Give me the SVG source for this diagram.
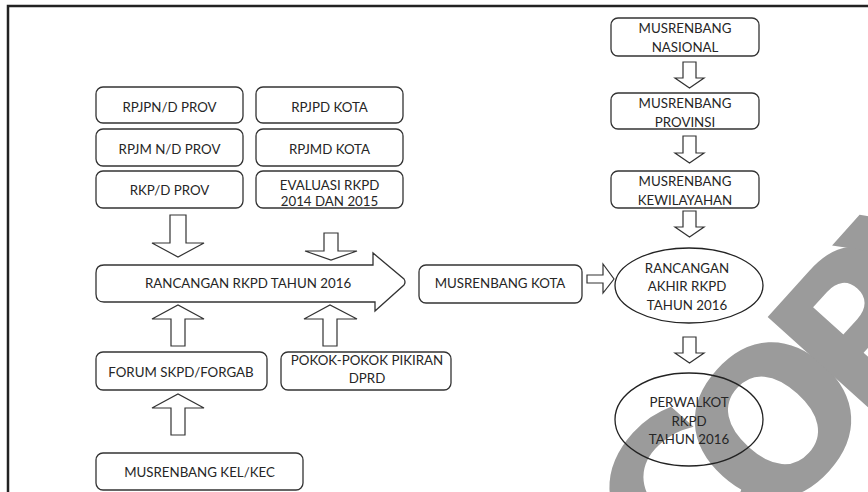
<svg xmlns="http://www.w3.org/2000/svg" width="868" height="492" viewBox="0 0 868 492">
<style>
.box{fill:#fff;stroke:#333;stroke-width:1.3}
.ell{fill:none;stroke:#222;stroke-width:1.3}
.arr{fill:#fff;stroke:#333;stroke-width:1.2;stroke-linejoin:miter}
.t{font-family:Lato,"Liberation Sans",sans-serif;font-size:13.3px;fill:#262626;text-anchor:middle}
.wm{font-family:"DejaVu Sans","Liberation Sans",sans-serif;font-weight:bold;font-size:200px;fill:#9b9b9b}
</style>
<rect width="868" height="492" fill="#fff"/>
<g id="watermark">
<text class="wm" transform="translate(692,619) rotate(-48)" dx="10 -40 -30 -30" dy="-20 20 0 0">COPY</text>
</g>
<rect x="8" y="6" width="880" height="500" fill="none" stroke="#222" stroke-width="2.5"/>
<g id="connectors">
<path class="arr" d="M170,215 H186 V243 H204 L178,257 L152,243 H170 Z"/>
<path class="arr" d="M324,233 H338 V251 H357 L331,260 L305,251 H324 Z"/>
<path class="arr" d="M171,346 H185 V319 H204 L178,305 L152,319 H171 Z"/>
<path class="arr" d="M323,346 H337 V319 H357 L330,305 L304,319 H323 Z"/>
<path class="arr" d="M171,435 H185 V408 H204 L178,394 L152,408 H171 Z"/>
<path class="arr" d="M587,275 V283 H603 V293 L614,279 L603,264 V275 Z"/>
<path class="arr" d="M683,62 H696 V78 H704 L689.5,88 L675,78 H683 Z"/>
<path class="arr" d="M683,136 H696 V153 H704 L689.5,163 L675,153 H683 Z"/>
<path class="arr" d="M683,211 H696 V227 H704 L689.5,237 L675,227 H683 Z"/>
<path class="arr" d="M683,337 H696 V353 H704 L689.5,363 L675,353 H683 Z"/>
</g>
<g id="n-rpjpn"><rect class="box" x="96" y="87" width="147" height="36" rx="7"/><text class="t" x="169.5" y="111.5">RPJPN/D PROV</text></g>
<g id="n-rpjm"><rect class="box" x="96" y="129" width="147" height="37" rx="7"/><text class="t" x="169.5" y="153.5">RPJM N/D PROV</text></g>
<g id="n-rkp"><rect class="box" x="96" y="171" width="147" height="37" rx="7"/><text class="t" x="169.5" y="195">RKP/D PROV</text></g>
<g id="n-rpjpd"><rect class="box" x="256" y="87" width="147" height="36" rx="7"/><text class="t" x="329.5" y="111.5">RPJPD KOTA</text></g>
<g id="n-rpjmd"><rect class="box" x="256" y="129" width="147" height="37" rx="7"/><text class="t" x="329.5" y="153.5">RPJMD KOTA</text></g>
<g id="n-evaluasi"><rect class="box" x="256" y="171" width="147" height="37" rx="7"/><text class="t" x="329.5" y="190">EVALUASI RKPD</text><text class="t" x="329.5" y="206">2014 DAN 2015</text></g>
<g id="n-rancangan"><path class="box" d="M104,265 H373 V253 L404,279 Q406,282 404,285 L375,311 V302 H104 Q96,302 96,294 V273 Q96,265 104,265 Z"/><text class="t" x="248" y="287.5">RANCANGAN RKPD TAHUN 2016</text></g>
<g id="n-forum"><rect class="box" x="96" y="352" width="171" height="38" rx="7"/><text class="t" x="181" y="376.5">FORUM SKPD/FORGAB</text></g>
<g id="n-pokok"><rect class="box" x="281" y="352" width="170" height="38" rx="7"/><text class="t" x="367" y="365">POKOK-POKOK PIKIRAN</text><text class="t" x="367" y="383">DPRD</text></g>
<g id="n-kelkec"><rect class="box" x="96" y="453" width="207" height="37" rx="7"/><text class="t" x="199.5" y="476.5">MUSRENBANG KEL/KEC</text></g>
<g id="n-kota"><rect class="box" x="419" y="265" width="163" height="38" rx="7"/><text class="t" x="500" y="287.5">MUSRENBANG KOTA</text></g>
<g id="n-nasional"><rect class="box" x="611" y="18" width="148" height="38" rx="7"/><text class="t" x="685" y="33">MUSRENBANG</text><text class="t" x="685" y="52">NASIONAL</text></g>
<g id="n-provinsi"><rect class="box" x="611" y="93" width="148" height="36" rx="7"/><text class="t" x="685" y="108">MUSRENBANG</text><text class="t" x="685" y="127">PROVINSI</text></g>
<g id="n-kewilayahan"><rect class="box" x="611" y="171" width="148" height="37" rx="7"/><text class="t" x="685" y="186">MUSRENBANG</text><text class="t" x="685" y="205">KEWILAYAHAN</text></g>
<g id="n-akhir"><ellipse class="ell" cx="689" cy="285.5" rx="74" ry="37.5"/><text class="t" x="687" y="273">RANCANGAN</text><text class="t" x="687" y="291">AKHIR RKPD</text><text class="t" x="687" y="310">TAHUN 2016</text></g>
<g id="n-perwalkot"><ellipse class="ell" cx="689" cy="419.5" rx="74" ry="46.5"/><text class="t" x="689" y="407">PERWALKOT</text><text class="t" x="689" y="426">RKPD</text><text class="t" x="689" y="444">TAHUN 2016</text></g>
</svg>
